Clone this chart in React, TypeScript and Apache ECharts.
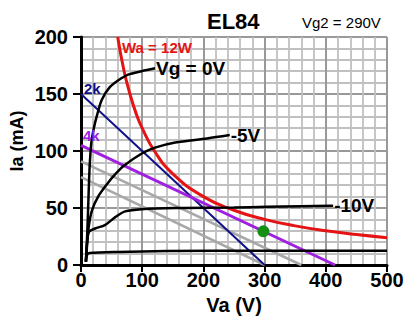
import React, { useEffect, useRef } from "react";
import * as echarts from "echarts";

// Anode characteristics (Va in V, Ia in mA)
const vg0 = [[8, 3], [10, 25], [12, 55], [14, 85], [17, 108], [21, 120], [26, 131], [34, 145], [47, 156], [61, 162], [77, 167], [99, 170], [121, 172.5]];
const vgMinus5 = [[8, 3], [10, 18], [13, 35], [18, 48], [28, 60], [44, 72], [55, 79], [70, 87], [100, 98], [121, 103], [154, 107.5], [206, 111], [243, 114]];
const vgMinus10 = [[8, 3], [10, 20], [13, 29], [23, 32], [39, 35], [56, 42], [72, 47], [99, 49], [167, 50], [250, 50.5], [304, 51], [360, 51.5], [412, 52]];
const vgMinus15 = [[8, 3], [10, 9], [14, 10.5], [60, 11.5], [140, 12.2], [300, 12.5], [500, 12.5]];
// Max anode dissipation curve
const wa12W = [[60, 200], [70, 171], [80, 150], [90, 133], [100, 120], [120, 100], [150, 80], [200, 60], [250, 48], [300, 40], [350, 34.3], [400, 30], [450, 26.7], [500, 24]];
// Load lines
const load2k = [[0, 150], [300, 0]];
const load4k = [[0, 105], [415, 0]];
const grayLineA = [[0, 91], [360, 0]];
const grayLineB = [[0, 77], [300, 0]];
const operatingPoint = [[298, 29.5]];

const curveLabels = ["Vg = 0V", "-5V", "-10V"];
const FONT = "'Liberation Sans', Arial, sans-serif";

export default function App() {
  const ref = useRef<HTMLDivElement>(null);
  useEffect(() => {
    if (!ref.current) return;
    const chart = echarts.init(ref.current, null, { renderer: "svg" });
    const blackCurve = (data: number[][], label?: string) => ({
      type: "line",
      data,
      showSymbol: false,
      smooth: 0.3,
      lineStyle: { color: "#000", width: 2.5 },
      z: 5,
      endLabel: label
        ? { show: true, formatter: label, fontSize: 19, fontWeight: "bold", color: "#000", fontFamily: FONT, distance: 1 }
        : { show: false },
    });
    const straight = (data: number[][], color: string, width: number) => ({
      type: "line",
      data,
      showSymbol: false,
      lineStyle: { color, width },
      z: 3,
    });
    chart.setOption({
      animation: false,
      textStyle: { fontFamily: FONT },
      grid: { left: 81, top: 37, right: 21, bottom: 69 },
      xAxis: {
        type: "value",
        min: 0,
        max: 500,
        interval: 100,
        name: "Va (V)",
        nameLocation: "middle",
        nameGap: 24,
        nameTextStyle: { fontSize: 20, fontWeight: "bold", color: "#000", fontFamily: FONT },
        axisLine: { onZero: false, lineStyle: { color: "#000", width: 3 } },
        axisTick: { show: true, length: 7, lineStyle: { color: "#000", width: 2 } },
        axisLabel: { fontSize: 20, fontWeight: "bold", color: "#000", margin: 5, fontFamily: FONT },
        splitLine: { show: true, lineStyle: { color: "#999999", width: 2 } },
        minorTick: { show: false, splitNumber: 5 },
        minorSplitLine: { show: true, lineStyle: { color: "#c0c0c0", width: 1.8 } },
      },
      yAxis: {
        type: "value",
        min: 0,
        max: 200,
        interval: 50,
        axisLine: { show: true, onZero: false, lineStyle: { color: "#000", width: 3 } },
        axisTick: { show: true, length: 8, lineStyle: { color: "#000", width: 2 } },
        axisLabel: { fontSize: 20, fontWeight: "bold", color: "#000", margin: 13, fontFamily: FONT },
        splitLine: { show: true, lineStyle: { color: "#999999", width: 2 } },
        minorTick: { show: false, splitNumber: 5 },
        minorSplitLine: { show: true, lineStyle: { color: "#c0c0c0", width: 1.8 } },
      },
      series: [
        straight(grayLineA, "#a8a8a8", 2.5),
        straight(grayLineB, "#a8a8a8", 2.5),
        straight(load2k, "#10108a", 2),
        straight(load4k, "#a020e0", 3),
        {
          type: "line",
          data: wa12W,
          showSymbol: false,
          smooth: true,
          lineStyle: { color: "#e41414", width: 3 },
          z: 4,
        },
        blackCurve(vg0, curveLabels[0]),
        blackCurve(vgMinus5, curveLabels[1]),
        blackCurve(vgMinus10, curveLabels[2]),
        blackCurve(vgMinus15),
        {
          type: "scatter",
          data: operatingPoint,
          symbolSize: 12,
          itemStyle: { color: "#159015", opacity: 1 },
          z: 6,
        },
      ],
      graphic: [
        { type: "text", left: 207, top: 10, style: { text: "EL84", fontSize: 22, fontWeight: "bold", fill: "#000", fontFamily: FONT } },
        { type: "text", left: 302, top: 15, style: { text: "Vg2 = 290V", fontSize: 15, fill: "#000", fontFamily: FONT } },
        { type: "text", left: 122, top: 40, z: 10, style: { text: "Wa = 12W", fontSize: 15, fontWeight: "bold", fill: "#e41414", fontFamily: FONT } },
        { type: "text", left: 84, top: 81, z: 10, style: { text: "2k", fontSize: 15, fontWeight: "bold", fill: "#10108a", fontFamily: FONT } },
        { type: "text", left: 83, top: 128, z: 10, style: { text: "4k", fontSize: 15, fontWeight: "bold", fill: "#a020e0", fontFamily: FONT } },
        {
          type: "text",
          x: 17,
          y: 141,
          rotation: Math.PI / 2,
          style: { text: "Ia (mA)", fontSize: 18, fontWeight: "bold", fill: "#000", fontFamily: FONT, align: "center", verticalAlign: "middle" },
        },
      ],
    });
    return () => chart.dispose();
  }, []);
  return <div ref={ref} style={{ width: 408, height: 334, position: "absolute", left: 0, top: 0 }} />;
}
